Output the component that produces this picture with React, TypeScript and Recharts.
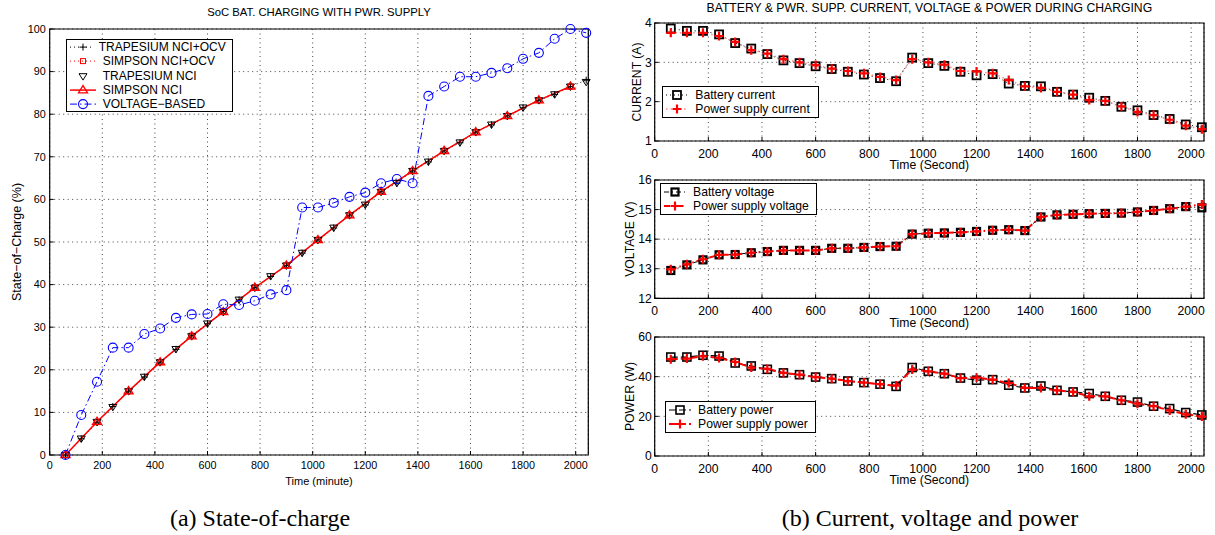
import React from "react";
import { LineChart, Line, XAxis, YAxis, CartesianGrid, ReferenceArea, Legend } from "recharts";

// time stamps (left chart says minute, right says second)
const minutes = [60, 120, 180, 240, 300, 360, 420, 480, 540, 600, 660, 720, 780, 840, 900, 960, 1020, 1080, 1140, 1200, 1260, 1320, 1380, 1440, 1500, 1560, 1620, 1680, 1740, 1800, 1860, 1920, 1980, 2040];
const simpsonMinutes = [60, 180, 300, 420, 540, 660, 780, 900, 1020, 1140, 1260, 1380, 1500, 1620, 1740, 1860, 1980];
const timeTicks = [0, 200, 400, 600, 800, 1000, 1200, 1400, 1600, 1800, 2000];
const socTicks = [0, 10, 20, 30, 40, 50, 60, 70, 80, 90, 100];

// state of charge (%)
const trapOcv = [0, 3.8, 7.7, 11.4, 15.0, 18.3, 21.8, 24.8, 28.0, 30.8, 33.7, 36.4, 39.3, 41.9, 44.5, 47.4, 50.5, 53.3, 56.3, 58.7, 61.8, 63.8, 66.7, 68.8, 71.4, 73.3, 75.8, 77.5, 79.6, 81.5, 83.3, 84.6, 86.5, 88.0];
const simpsonOcv = [0, 7.7, 15.0, 21.8, 28.0, 33.7, 39.3, 44.5, 50.5, 56.3, 61.8, 66.7, 71.4, 75.8, 79.6, 83.3, 86.5];
const trapNci = [0, 3.9, 7.8, 11.3, 15.0, 18.4, 21.8, 24.9, 27.9, 30.9, 33.6, 36.5, 39.3, 42.0, 44.5, 47.5, 50.5, 53.4, 56.3, 58.8, 61.8, 63.9, 66.7, 68.9, 71.4, 73.4, 75.8, 77.6, 79.6, 81.6, 83.3, 84.7, 86.5, 87.6];
const simpsonNci = [0, 7.8, 15.0, 21.8, 27.9, 33.6, 39.3, 44.5, 50.5, 56.3, 61.8, 66.7, 71.4, 75.8, 79.6, 83.3, 86.5];
const voltageBased = [0, 9.4, 17.2, 25.2, 25.2, 28.4, 29.7, 32.2, 33.0, 33.1, 35.4, 35.2, 36.2, 37.7, 38.7, 58.1, 58.1, 59.2, 60.6, 61.6, 63.8, 64.8, 63.8, 84.3, 86.5, 88.8, 88.8, 89.7, 90.8, 93.0, 94.4, 97.7, 100, 99.1];

// current (A)
const batteryCurrent = [3.86, 3.8, 3.8, 3.71, 3.49, 3.35, 3.21, 3.05, 2.98, 2.9, 2.83, 2.76, 2.69, 2.6, 2.52, 3.12, 2.98, 2.91, 2.76, 2.67, 2.7, 2.46, 2.4, 2.39, 2.25, 2.18, 2.1, 2.02, 1.87, 1.78, 1.66, 1.56, 1.42, 1.35];
const supplyCurrent = [3.75, 3.75, 3.75, 3.67, 3.52, 3.31, 3.22, 3.08, 3.0, 2.93, 2.84, 2.78, 2.72, 2.63, 2.55, 3.08, 3.0, 2.94, 2.78, 2.77, 2.72, 2.55, 2.39, 2.35, 2.25, 2.18, 2.04, 2.02, 1.88, 1.74, 1.66, 1.54, 1.39, 1.3];
// voltage (V)
const batteryVoltage = [12.94, 13.13, 13.3, 13.47, 13.48, 13.54, 13.58, 13.62, 13.62, 13.62, 13.69, 13.69, 13.72, 13.75, 13.76, 14.17, 14.2, 14.21, 14.23, 14.26, 14.3, 14.32, 14.29, 14.75, 14.82, 14.84, 14.86, 14.87, 14.88, 14.92, 14.97, 15.03, 15.1, 15.06];
const supplyVoltage = [12.98, 13.15, 13.32, 13.47, 13.48, 13.54, 13.58, 13.62, 13.62, 13.62, 13.69, 13.69, 13.72, 13.75, 13.76, 14.17, 14.2, 14.21, 14.23, 14.26, 14.3, 14.32, 14.29, 14.75, 14.82, 14.84, 14.86, 14.87, 14.88, 14.92, 14.97, 15.03, 15.1, 15.17];
// power (W)
const batteryPower = [49.9, 49.9, 50.8, 50.4, 46.9, 45.4, 43.7, 41.9, 41.0, 39.8, 39.0, 37.8, 37.0, 36.2, 35.1, 44.6, 42.7, 41.5, 39.3, 38.2, 38.5, 35.7, 34.3, 35.3, 33.1, 32.3, 31.5, 30.1, 28.1, 27.2, 25.1, 23.9, 21.9, 20.7];
const supplyPower = [48.8, 49.1, 50.3, 49.4, 47.4, 44.6, 43.9, 41.9, 41.0, 39.8, 39.0, 37.8, 37.0, 36.2, 35.5, 43.6, 42.7, 41.5, 39.3, 39.5, 38.5, 36.8, 34.3, 34.3, 33.1, 32.3, 30.1, 30.1, 28.1, 26.4, 25.1, 23.0, 21.0, 19.9];

type Shape = "plus" | "square" | "triDown" | "triUp" | "circle";

type Series = {
  name: string;
  xs: number[];
  ys: number[];
  color: string;
  lineColor?: string;
  dash?: string;
  width: number;
  shape: Shape;
  size: number;
  markWidth: number;
  noLine?: boolean;
};

const rows = (xs: number[], ys: number[]) => xs.map((t, i) => ({ t, v: ys[i] }));

function Marker(props: { shape: Shape; cx: number; cy: number; color: string; size: number; sw: number }) {
  const { shape, cx, cy, color, size, sw } = props;
  const s = size / 2;
  if (shape === "plus")
    return <path d={`M${cx - s},${cy}H${cx + s}M${cx},${cy - s}V${cy + s}`} stroke={color} strokeWidth={sw} fill="none" />;
  if (shape === "square")
    return <rect x={cx - s} y={cy - s} width={size} height={size} stroke={color} strokeWidth={sw} fill="none" />;
  if (shape === "triDown")
    return <polygon points={`${cx - s},${cy - s * 0.6} ${cx + s},${cy - s * 0.6} ${cx},${cy + s}`} stroke={color} strokeWidth={sw} fill="none" />;
  if (shape === "triUp")
    return <polygon points={`${cx - s},${cy + s * 0.6} ${cx + s},${cy + s * 0.6} ${cx},${cy - s}`} stroke={color} strokeWidth={sw} fill="none" />;
  return <circle cx={cx} cy={cy} r={s} stroke={color} strokeWidth={sw} fill="none" />;
}

function renderLine(s: Series) {
  return (
    <Line
      key={s.name}
      data={rows(s.xs, s.ys)}
      dataKey="v"
      name={s.name}
      type="linear"
      stroke={s.noLine ? "none" : s.lineColor || s.color}
      strokeWidth={s.width}
      strokeDasharray={s.dash}
      isAnimationActive={false}
      dot={(p: any) => (
        <Marker key={`${s.name}-${p.index}`} shape={s.shape} cx={p.cx} cy={p.cy} color={s.color} size={s.size} sw={s.markWidth} />
      )}
      activeDot={false}
    />
  );
}

function LegendBox(props: { items: Series[]; rowH: number; fontSize: number; iconW: number; pad: number }) {
  const { items, rowH, fontSize, iconW, pad } = props;
  return (
    <div style={{ border: "1.3px solid #000", background: "#fff", padding: `${pad}px 6px ${pad}px 2px`, fontSize, lineHeight: `${rowH}px`, whiteSpace: "nowrap" }}>
      {items.map((s) => (
        <div key={s.name} style={{ display: "flex", alignItems: "center", height: rowH }}>
          <svg width={iconW} height={rowH} style={{ marginRight: 6 }}>
            {!s.noLine && (
              <line x1={1} x2={iconW - 1} y1={rowH / 2} y2={rowH / 2} stroke={s.lineColor || s.color} strokeWidth={s.width} strokeDasharray={s.dash} />
            )}
            <Marker shape={s.shape} cx={iconW / 2} cy={rowH / 2} color={s.color} size={s.size} sw={s.markWidth} />
          </svg>
          <span>{s.name}</span>
        </div>
      ))}
    </div>
  );
}

const xTick = (fs: number, gap: number) => (p: any) => (
  <g key={`x-${p.index}`}>
    <line x1={p.x} x2={p.x} y1={p.y - gap} y2={p.y - gap - 4} stroke="#000" />
    <text x={p.x} y={p.y} dy="0.71em" textAnchor="middle" fontSize={fs} fill="#000">
      {p.payload.value}
    </text>
  </g>
);

const yTick = (fs: number, gap: number) => (p: any) => (
  <g key={`y-${p.index}`}>
    <line x1={p.x + gap} x2={p.x + gap + 4} y1={p.y} y2={p.y} stroke="#000" />
    <text x={p.x} y={p.y} dy="0.355em" textAnchor="end" fontSize={fs} fill="#000">
      {p.payload.value}
    </text>
  </g>
);

const socSeries: Series[] = [
  { name: "TRAPESIUM NCI+OCV", xs: minutes, ys: trapOcv, color: "#000", dash: "1 3", width: 1, shape: "plus", size: 7, markWidth: 1 },
  { name: "SIMPSON NCI+OCV", xs: simpsonMinutes, ys: simpsonOcv, color: "#f00", dash: "1 3", width: 1, shape: "square", size: 5, markWidth: 1 },
  { name: "TRAPESIUM NCI", xs: minutes, ys: trapNci, color: "#000", width: 1, shape: "triDown", size: 8, markWidth: 1, noLine: true },
  { name: "SIMPSON NCI", xs: simpsonMinutes, ys: simpsonNci, color: "#f00", width: 1.5, shape: "triUp", size: 9, markWidth: 1.3 },
  { name: "VOLTAGE\u2212BASED", xs: minutes, ys: voltageBased, color: "#00f", dash: "7 3 1.5 3", width: 1, shape: "circle", size: 9, markWidth: 1.1 },
];

const currentSeries: Series[] = [
  { name: "Battery current", xs: minutes, ys: batteryCurrent, color: "#000", dash: "1 3", width: 1, shape: "square", size: 8, markWidth: 1.8 },
  { name: "Power supply current", xs: minutes, ys: supplyCurrent, color: "#f00", lineColor: "#f88", dash: "1.5 3", width: 1.5, shape: "plus", size: 9, markWidth: 2.2 },
];
const voltageSeries: Series[] = [
  { name: "Battery voltage", xs: minutes, ys: batteryVoltage, color: "#000", dash: "5 3 1 3", width: 1, shape: "square", size: 7, markWidth: 2.2 },
  { name: "Power supply voltage", xs: minutes, ys: supplyVoltage, color: "#f00", dash: "6 3 1.5 3", width: 2, shape: "plus", size: 9, markWidth: 2.2 },
];
const powerSeries: Series[] = [
  { name: "Battery power", xs: minutes, ys: batteryPower, color: "#000", dash: "7 3", width: 1.2, shape: "square", size: 8, markWidth: 1.6 },
  { name: "Power supply power", xs: minutes, ys: supplyPower, color: "#f00", dash: "7 3", width: 2, shape: "plus", size: 9, markWidth: 2.2 },
];

function Panel(props: {
  top: number;
  plotH: number;
  domain: [number, number];
  ticks: number[];
  yLabel: string;
  labelX: number;
  series: Series[];
  legendLeft: number;
  legendTop: number;
  legendW: number;
}) {
  const fs = 12.2;
  const axisH = 34;
  return (
    <div style={{ position: "absolute", left: 600, top: props.top }}>
      <LineChart width={615} height={23 + props.plotH + axisH} margin={{ top: 23, right: 11, left: 0, bottom: 0 }}>
        <CartesianGrid stroke="#444" strokeDasharray="1 3.5" />
        <XAxis
          type="number"
          dataKey="t"
          domain={[0, 2048]}
          ticks={timeTicks}
          tickSize={0}
          tickMargin={8}
          axisLine={false}
          tickLine={false}
          tick={xTick(fs, 8)}
          height={axisH}
          label={{ value: "Time (Second)", position: "insideBottom", offset: 5.7, fontSize: fs, fill: "#000" }}
        />
        <YAxis
          type="number"
          domain={props.domain}
          ticks={props.ticks}
          width={54.7}
          tickSize={0}
          tickMargin={3}
          axisLine={false}
          tickLine={false}
          tick={yTick(fs, 3)}
          label={{ value: props.yLabel, angle: -90, position: "insideLeft", offset: props.labelX, fontSize: fs, fill: "#000", style: { textAnchor: "middle" } }}
        />
        <ReferenceArea x1={0} x2={2048} y1={props.domain[0]} y2={props.domain[1]} fill="none" stroke="#000" strokeWidth={1.2} />
        {props.series.map(renderLine)}
        <Legend
          layout="vertical"
          align="center"
          verticalAlign="middle"
          wrapperStyle={{ left: props.legendLeft, top: props.legendTop, width: props.legendW }}
          content={() => <LegendBox items={props.series} rowH={14} fontSize={fs} iconW={24} pad={1} />}
        />
      </LineChart>
    </div>
  );
}

export default function App() {
  const fsL = 10.8;
  return (
    <div style={{ position: "absolute", left: 0, top: 0, width: 1215, height: 535, background: "#fff", fontFamily: "'Liberation Sans', Arial, sans-serif", color: "#000" }}>
      <div style={{ position: "absolute", left: 49.7, width: 538.6, top: 7.3, textAlign: "center", fontSize: 11.3, lineHeight: 1 }}>
        SoC BAT. CHARGING WITH PWR. SUPPLY
      </div>
      <div style={{ position: "absolute", left: 0, top: 0 }}>
        <LineChart width={600} height={490} margin={{ top: 29, right: 11.7, left: 0, bottom: 0 }}>
          <CartesianGrid stroke="#444" strokeDasharray="1 3.5" />
          <XAxis
            type="number"
            dataKey="t"
            domain={[0, 2048]}
            ticks={timeTicks}
            tickSize={0}
            tickMargin={6}
            axisLine={false}
            tickLine={false}
            tick={xTick(fsL, 6)}
            height={35}
            label={{ value: "Time (minute)", position: "insideBottom", offset: 5.4, fontSize: 11, fill: "#000" }}
          />
          <YAxis
            type="number"
            domain={[0, 100]}
            ticks={socTicks}
            width={49.7}
            tickSize={0}
            tickMargin={4}
            axisLine={false}
            tickLine={false}
            tick={yTick(fsL, 4)}
            label={{ value: "State\u2212of\u2212Charge (%)", angle: -90, position: "insideLeft", offset: 17, fontSize: 12.5, fill: "#000", style: { textAnchor: "middle" } }}
          />
          <ReferenceArea x1={0} x2={2048} y1={0} y2={100} fill="none" stroke="#000" strokeWidth={1.2} />
          {socSeries.map(renderLine)}
          <Legend
            layout="vertical"
            align="center"
            verticalAlign="middle"
            wrapperStyle={{ left: 65.7, top: 39.3, width: 167 }}
            content={() => <LegendBox items={socSeries} rowH={14.2} fontSize={12} iconW={28} pad={0} />}
          />
        </LineChart>
      </div>

      <div style={{ position: "absolute", left: 654.7, width: 549.3, top: 2, textAlign: "center", fontSize: 12.2, lineHeight: 1, whiteSpace: "nowrap" }}>
        BATTERY &amp; PWR. SUPP. CURRENT, VOLTAGE &amp; POWER DURING CHARGING
      </div>
      <Panel top={0} plotH={118} domain={[1, 4]} ticks={[1, 2, 3, 4]} yLabel="CURRENT (A)" labelX={36.5} series={currentSeries} legendLeft={62.3} legendTop={86} legendW={157} />
      <Panel top={157} plotH={118.3} domain={[12, 16]} ticks={[12, 13, 14, 15, 16]} yLabel="VOLTAGE (V)" labelX={29.5} series={voltageSeries} legendLeft={60} legendTop={25.7} legendW={157} />
      <Panel top={313.7} plotH={119} domain={[0, 60]} ticks={[0, 20, 40, 60]} yLabel="POWER (W)" labelX={30} series={powerSeries} legendLeft={65} legendTop={87.3} legendW={151} />

      <div style={{ position: "absolute", left: 60, width: 400, top: 506, textAlign: "center", fontFamily: "'Liberation Serif', serif", fontSize: 24, lineHeight: 1 }}>
        (a) State-of-charge
      </div>
      <div style={{ position: "absolute", left: 730, width: 400, top: 506, textAlign: "center", fontFamily: "'Liberation Serif', serif", fontSize: 24, lineHeight: 1 }}>
        (b) Current, voltage and power
      </div>
    </div>
  );
}
